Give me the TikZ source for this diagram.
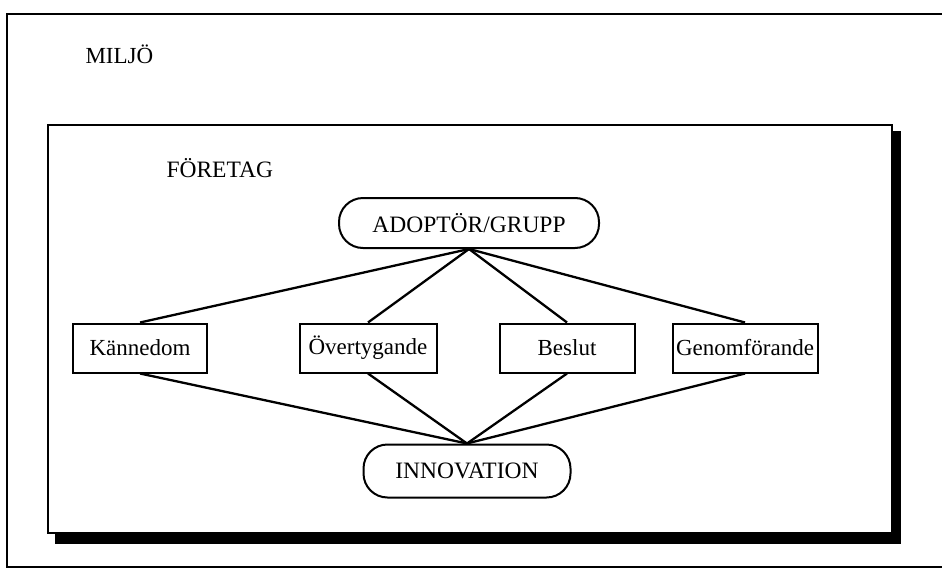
\documentclass[tikz,border=0pt]{standalone}
\usepackage{fontspec}
\setmainfont{Liberation Serif}
\tikzset{
  box/.style={draw, line width=2pt, minimum height=49pt, inner sep=0pt, font=\fontsize{23}{27}\selectfont},
  pill/.style={draw, line width=2pt, rounded corners=24pt, inner sep=0pt, font=\fontsize{23.5}{27}\selectfont},
  link/.style={line width=2.3pt},
}
\begin{document}
\begin{tikzpicture}[x=1pt,y=-1pt]
\useasboundingbox (0,0) rectangle (942,570);
% omgivning
\draw [line width=1.6pt] (950,14) -- (7,14) -- (7,567) -- (950,567);
\node [anchor=west, font=\fontsize{23}{27}\selectfont] (miljo) at (82,54) {MILJÖ};
% foretaget med skugga
\fill (55,533) rectangle (901,544);
\fill (892,131) rectangle (901,544);
\draw [line width=2pt] (48,125) rectangle (892,533);
\node [anchor=west, font=\fontsize{23.5}{27}\selectfont] (foretag) at (163,168) {FÖRETAG};
% noder
\node [pill, minimum width=260pt, minimum height=50pt] (adoptor) at (469,223) {ADOPTÖR/GRUPP};
\node [pill, minimum width=207pt, minimum height=53pt] (innovation) at (467,471) {INNOVATION};
\node [box, minimum width=134pt] (kannedom) at (140,348) {Kännedom};
\node [box, minimum width=137pt] (overtygande) at (368,348) {Övertygande};
\node [box, minimum width=135pt] (beslut) at (567,348) {Beslut};
\node [box, minimum width=145pt] (genomforande) at (745,348) {Genomförande};
\foreach \n in {kannedom,overtygande,beslut,genomforande}{
\draw [link] (adoptor.south) -- (\n.north);
\draw [link] (\n.south) -- (innovation.north);
}
\end{tikzpicture}
\end{document}
